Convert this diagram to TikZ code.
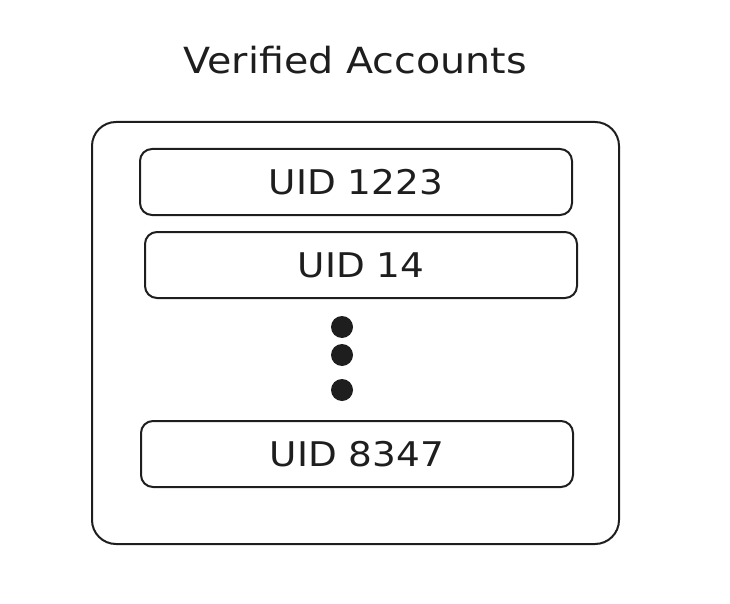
\documentclass[tikz,border=0pt]{standalone}
\usepackage{fontspec}
\setmainfont{DejaVu Sans}
\usetikzlibrary{positioning}
\definecolor{ink}{HTML}{1E1E1E}
\newcommand{\widetext}[1]{\scalebox{1.1}[1]{#1}}

\begin{document}
\begin{tikzpicture}
        [
            x=1pt, y=-1pt,
            frame/.style = {draw=ink, shape=rectangle, rounded corners=24pt, minimum width=527pt, minimum height=422pt, line width=2pt},
            uidbox/.style = {draw=ink, shape=rectangle, rounded corners=12pt, minimum width=432pt, minimum height=66pt, line width=2pt, text=ink, font=\fontsize{34}{40}\selectfont},
            dot/.style = {fill=ink, shape=circle, minimum size=22pt, inner sep=0pt},
        ]
        \useasboundingbox (0,0) rectangle (730,604);

        \node[text=ink, font=\fontsize{36}{42}\selectfont] (title) at (355,60) {\widetext{Verified Accounts}};

        \node[frame] (accounts) at (355.5,333) {};

        \node[uidbox] (uid0) at (356,182) {\widetext{UID 1223}};
        \node[uidbox] (uid1) at (361,265) {\widetext{UID 14}};
        \node[uidbox] (uid2) at (357,454) {\widetext{UID 8347}};

        \node[dot] (dot0) at (342,327) {};
        \node[dot] (dot1) at (342,355) {};
        \node[dot] (dot2) at (342,390) {};
    \end{tikzpicture}
\end{document}
